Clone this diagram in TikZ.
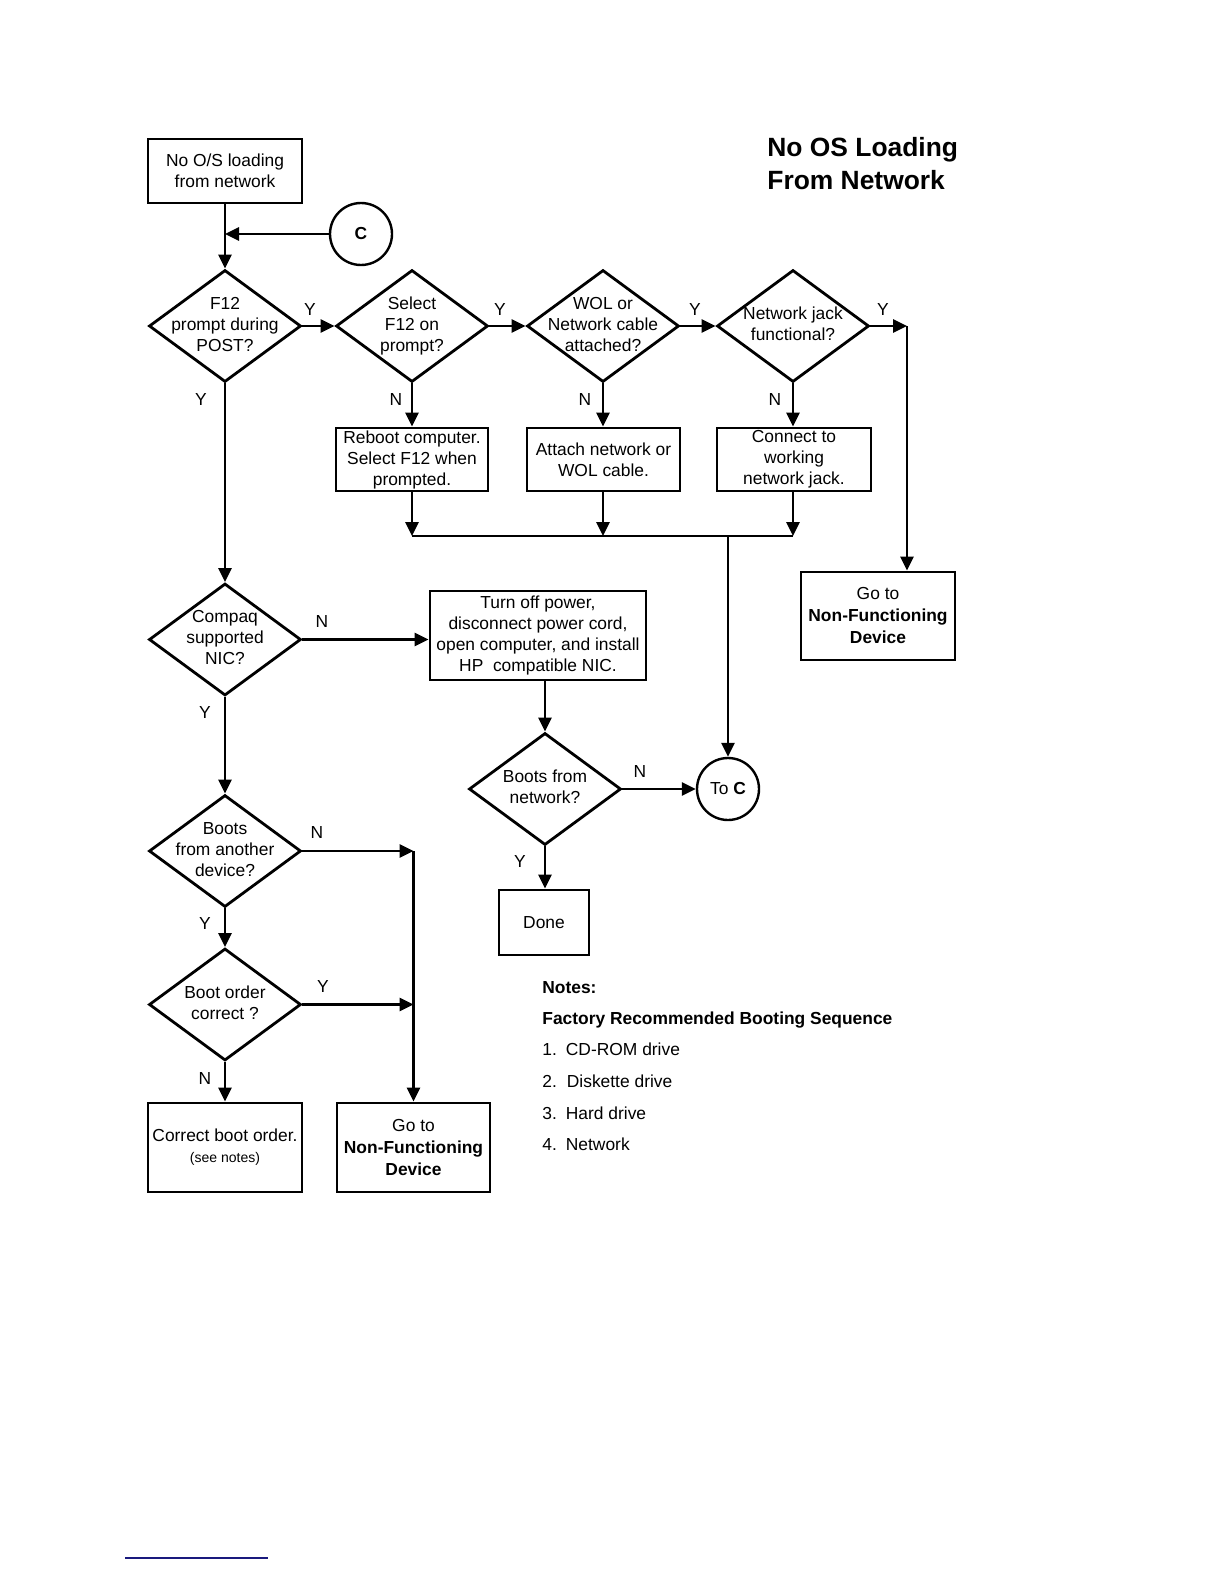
\documentclass[tikz,border=0pt]{standalone}
\usepackage{fontspec}
\setmainfont{Liberation Sans}
\usetikzlibrary{positioning}
\usetikzlibrary{shapes}
\usetikzlibrary{arrows.meta}
\definecolor{rulecol}{RGB}{25,25,125}
\newcommand{\dtext}[1]{\makebox[0pt]{\begin{tabular}{@{}c@{}}#1\end{tabular}}}

\begin{document}
\begin{tikzpicture}[x=0.5pt, y=-0.5pt,
	box/.style={rectangle, draw=black, line width=1.4pt, align=center, inner sep=1pt, font=\fontsize{8.7}{10.5}\selectfont},
	dec/.style={diamond, draw=black, line width=1.4pt, inner sep=0pt, minimum width=76pt, minimum height=56pt, font=\fontsize{8.7}{10.5}\selectfont},
	conn/.style={circle, draw=black, line width=1.2pt, minimum size=31pt, inner sep=0pt, font=\fontsize{8.7}{10.5}\selectfont},
	lbl/.style={font=\fontsize{8.7}{10.5}\selectfont, inner sep=0pt},
	note/.style={anchor=base west, inner sep=0pt, font=\fontsize{8.7}{10.5}\selectfont},
	flow/.style={line width=1.4pt, -{Triangle[length=7pt, width=6.5pt]}},
	wire/.style={line width=1.4pt}]
		\useasboundingbox (0,0) rectangle (1224,1584);

		% title
		\node[anchor=west, align=left, inner sep=0pt, font=\fontsize{13.2}{16.5}\selectfont\bfseries](title) at (767,163.5){No OS Loading\\From Network};

		% process boxes
		\node[box, minimum width=77pt, minimum height=32pt](start) at (225,171){No O/S loading\\from network};
		\node[box, minimum width=76pt, minimum height=31.5pt](reboot) at (412,459.5){Reboot computer.\\Select F12 when\\prompted.};
		\node[box, minimum width=76.5pt, minimum height=31.5pt](attach) at (603.5,459.5){Attach network or\\WOL cable.};
		\node[box, minimum width=77pt, minimum height=31.5pt](jack) at (794,459.5){Connect to\\working\\network jack.};
		\node[box, minimum width=77pt, minimum height=44pt, font=\fontsize{8.7}{11}\selectfont](gotoA) at (878,616){Go to\\\textbf{Non-Functioning}\\\textbf{Device}};
		\node[box, minimum width=108pt, minimum height=44.5pt](install) at (538,635.5){Turn off power,\\disconnect power cord,\\open computer, and install\\HP\ \ compatible NIC.};
		\node[box, minimum width=45pt, minimum height=32.5pt](done) at (544,922.5){Done};
		\node[box, minimum width=77pt, minimum height=44.5pt](order) at (225,1147.5){Correct boot order.\\{\fontsize{7}{8}\selectfont (see notes)}};
		\node[box, minimum width=76.5pt, minimum height=44.5pt, font=\fontsize{8.7}{11}\selectfont](gotoB) at (413.5,1147.5){Go to\\\textbf{Non-Functioning}\\\textbf{Device}};

		% decisions
		\node[dec](prompt) at (225,326){\dtext{F12\\prompt during\\POST?}};
		\node[dec](select) at (412,326){\dtext{Select\\F12 on\\prompt?}};
		\node[dec](cable) at (603,326){\dtext{WOL or\\Network cable\\attached?}};
		\node[dec](jackok) at (793,326){\dtext{Network jack\\functional?}};
		\node[dec](nic) at (225,639.5){\dtext{Compaq\\supported\\NIC?}};
		\node[dec](netboot) at (545,789){\dtext{Boots from\\network?}};
		\node[dec](other) at (225,851){\dtext{Boots\\from another\\device?}};
		\node[dec](bootord) at (225,1004.5){\dtext{Boot order\\correct ?}};

		% connectors
		\node[conn](cIn) at (361,234){\textbf{C}};
		\node[conn](cOut) at (728,789){To \textbf{C}};

		% junctions
		\coordinate (jC) at (225,234);
		\coordinate (jY) at (907,326);
		\coordinate (mA) at (412,536);
		\coordinate (mB) at (603,536);
		\coordinate (mC) at (793,536);
		\coordinate (mD) at (728,536);
		\coordinate (jOther) at (413.5,851);
		\coordinate (jOrder) at (413.5,1004.5);

		% draw main edges
		\draw[flow] (start) -- (prompt.north);
		\draw[flow] (cIn) -- (jC);
		\draw[flow] (prompt.east) -- (select.west);
		\draw[flow] (select.east) -- (cable.west);
		\draw[flow] (cable.east) -- (jackok.west);
		\draw[flow] (jackok.east) -- (jY);
		\draw[flow] (jY) -- (jY |- gotoA.north);

		% draw fix edges
		\draw[flow] (select.south) -- (select.south |- reboot.north);
		\draw[flow] (cable.south) -- (cable.south |- attach.north);
		\draw[flow] (jackok.south) -- (jackok.south |- jack.north);
		\draw[flow] (mA |- reboot.south) -- (mA);
		\draw[flow] (mB |- attach.south) -- (mB);
		\draw[flow] (mC |- jack.south) -- (mC);
		\draw[wire] (mA) -- (mC);
		\draw[flow] (mD) -- (cOut.north);

		% draw nic edges
		\draw[flow] (prompt.south) -- (nic.north);
		\draw[flow] (nic.east) -- (nic.east -| install.west);
		\draw[flow] (netboot.north |- install.south) -- (netboot.north);
		\draw[flow] (netboot.east) -- (cOut.west);
		\draw[flow] (netboot.south) -- (netboot.south |- done.north);

		% draw boot order edges
		\draw[flow] (nic.south) -- (other.north);
		\draw[flow] (other.east) -- (jOther);
		\draw[flow] (jOther) -- (jOther |- gotoB.north);
		\draw[flow] (other.south) -- (bootord.north);
		\draw[flow] (bootord.east) -- (jOrder);
		\draw[flow] (bootord.south) -- (order.north);

		% edge labels
		\node[lbl](yPrompt) at (310,310){Y};
		\node[lbl](ySelect) at (500,310){Y};
		\node[lbl](yCable) at (695,310){Y};
		\node[lbl](yJack) at (883,310){Y};
		\node[lbl](nSelect) at (396,400){N};
		\node[lbl](nCable) at (585,400){N};
		\node[lbl](nJack) at (775,400){N};
		\node[lbl](yNic) at (201,400){Y};
		\node[lbl](nNic) at (322,622){N};
		\node[lbl](yOther) at (205,713){Y};
		\node[lbl](nNet) at (640,772){N};
		\node[lbl](yNet) at (520,862){Y};
		\node[lbl](nOther) at (317,833){N};
		\node[lbl](yBoot) at (205,924){Y};
		\node[lbl](yOrder) at (323,987){Y};
		\node[lbl](nOrder) at (205,1079){N};

		% notes
		\node[note](notesHead) at (542,993){\textbf{Notes:}};
		\node[note](notesSeq) at (542,1024){\textbf{Factory Recommended Booting Sequence}};
		\node[note](notesOne) at (542,1055){1.\hspace{4.5pt}CD-ROM drive};
		\node[note](notesTwo) at (542,1087){2.\hspace{5pt}Diskette drive};
		\node[note](notesThree) at (542,1119){3.\hspace{4.5pt}Hard drive};
		\node[note](notesFour) at (542,1150){4.\hspace{4.5pt}Network};

		% footnote rule
		\draw[rulecol, line width=0.8pt] (125,1558) -- (268,1558);
	\end{tikzpicture}
\end{document}
